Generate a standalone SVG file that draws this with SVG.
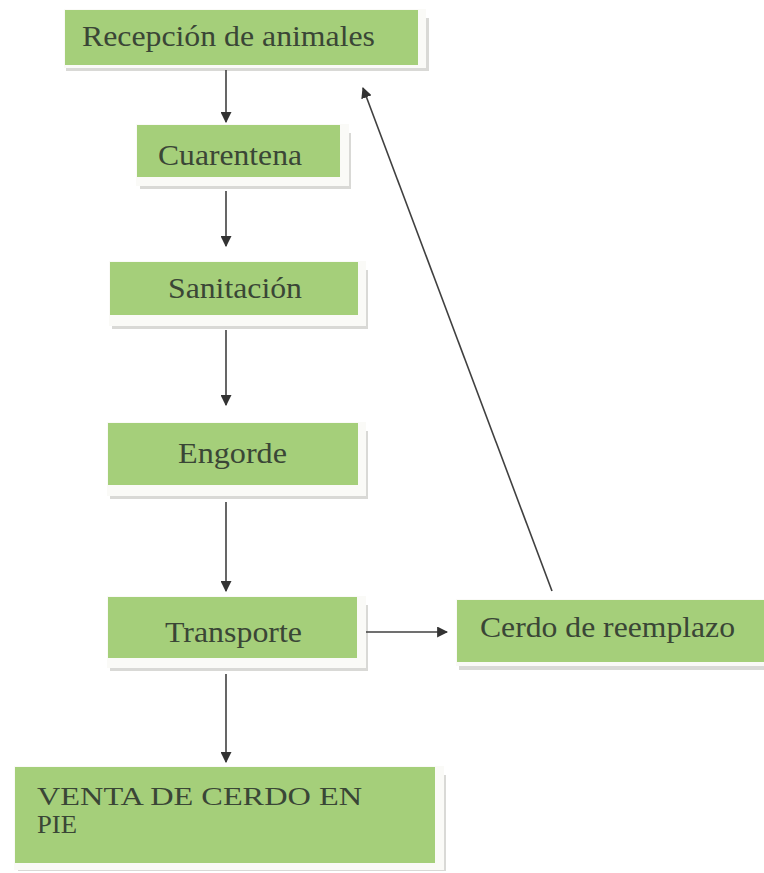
<svg xmlns="http://www.w3.org/2000/svg" width="764" height="873" viewBox="0 0 764 873">
<defs>
<style>
.sh{fill:#d9d9d6}
.wb{fill:#fafaf7}
.bx{fill:#a5cf7a}
.t{fill:#3a4636}
.c{stroke:#404040;stroke-width:1.6;fill:none}
</style>
<marker id="ah" viewBox="0 0 10 10" refX="9" refY="5" markerWidth="11" markerHeight="11" markerUnits="userSpaceOnUse" orient="auto">
<path d="M0,0 L10,5 L0,10 Z" fill="#333"/>
</marker>
</defs>
<rect width="764" height="873" fill="#ffffff"/>
<g font-family="'Liberation Serif', 'DejaVu Serif', serif" font-size="30">
<g id="n1">
<rect class="sh" x="66" y="18" width="363" height="53"/>
<rect class="wb" x="64" y="9" width="362" height="59"/>
<rect class="bx" x="65" y="10" width="353" height="55"/>
<text class="t" x="82" y="46" textLength="293" lengthAdjust="spacingAndGlyphs">Recepción de animales</text>
</g>
<g id="n2">
<rect class="sh" x="140" y="133" width="211" height="56"/>
<rect class="wb" x="136" y="124" width="213" height="62"/>
<rect class="bx" x="137" y="125" width="203" height="52"/>
<text class="t" x="158" y="165" textLength="144" lengthAdjust="spacingAndGlyphs">Cuarentena</text>
</g>
<g id="n3">
<rect class="sh" x="112" y="270" width="256" height="59"/>
<rect class="wb" x="109" y="261" width="257" height="65"/>
<rect class="bx" x="110" y="262" width="248" height="53"/>
<text class="t" x="168" y="298" textLength="134" lengthAdjust="spacingAndGlyphs">Sanitación</text>
</g>
<g id="n4">
<rect class="sh" x="110" y="431" width="258" height="68"/>
<rect class="wb" x="107" y="422" width="259" height="74"/>
<rect class="bx" x="108" y="423" width="250" height="62"/>
<text class="t" x="178" y="463" textLength="109" lengthAdjust="spacingAndGlyphs">Engorde</text>
</g>
<g id="n5">
<rect class="sh" x="110" y="605" width="258" height="66"/>
<rect class="wb" x="107" y="596" width="259" height="72"/>
<rect class="bx" x="108" y="597" width="249" height="61"/>
<text class="t" x="165" y="642" textLength="137" lengthAdjust="spacingAndGlyphs">Transporte</text>
</g>
<g id="n6">
<rect class="sh" x="459" y="608" width="305" height="62"/>
<rect class="wb" x="456" y="599" width="308" height="67"/>
<rect class="bx" x="457" y="600" width="307" height="62"/>
<text class="t" x="480" y="637" textLength="255" lengthAdjust="spacingAndGlyphs">Cerdo de reemplazo</text>
</g>
<g id="n7">
<rect class="sh" x="18" y="775" width="428" height="96"/>
<rect class="wb" x="14" y="766" width="430" height="104"/>
<rect class="bx" x="15" y="767" width="420" height="96"/>
<text class="t" x="37" y="805" font-size="26" textLength="325" lengthAdjust="spacingAndGlyphs">VENTA DE CERDO EN</text>
<text class="t" x="37" y="833" font-size="26" textLength="40" lengthAdjust="spacingAndGlyphs">PIE</text>
</g>
</g>
<g id="connectors">
<line class="c" x1="226" y1="70" x2="226" y2="122" marker-end="url(#ah)"/>
<line class="c" x1="226" y1="191" x2="226" y2="246" marker-end="url(#ah)"/>
<line class="c" x1="226" y1="330" x2="226" y2="405" marker-end="url(#ah)"/>
<line class="c" x1="226" y1="502" x2="226" y2="591" marker-end="url(#ah)"/>
<line class="c" x1="226" y1="674" x2="226" y2="762" marker-end="url(#ah)"/>
<line class="c" x1="366" y1="632" x2="447" y2="632" marker-end="url(#ah)"/>
<line class="c" x1="552" y1="591" x2="363" y2="88" marker-end="url(#ah)"/>
</g>
</svg>
